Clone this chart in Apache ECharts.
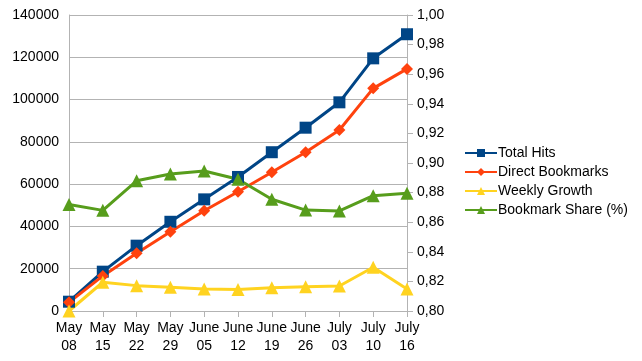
<!DOCTYPE html>
<html>
<head>
<meta charset="utf-8">
<script src="https://cdn.jsdelivr.net/npm/echarts@6/dist/echarts.min.js"></script>
<style>
  html, body { margin: 0; padding: 0; background: #fff; }
  #chart { width: 642px; height: 361px; }
</style>
</head>
<body>
<div id="chart"></div>
<script>
var weeks = ['May\n08', 'May\n15', 'May\n22', 'May\n29', 'June\n05', 'June\n12',
  'June\n19', 'June\n26', 'July\n03', 'July\n10', 'July\n16'];
var totalHits = [4400, 18600, 30900, 42200, 52800, 63400, 75100, 86700, 98700, 119500, 130900];
var directBookmarks = [4100, 16600, 27300, 37500, 47400, 56400, 65600, 75100, 85600, 105300, 114500];
var weeklyGrowth = [0, 13600, 12000, 11200, 10400, 10200, 11000, 11500, 11800, 20700, 10400];
var bookmarkShare = [0.872, 0.868, 0.888, 0.8926, 0.8946, 0.889, 0.8755, 0.8682, 0.8676, 0.8779, 0.8795];

var font = 'Liberation Sans';
var gray = '#b3b3b3';

var chart = echarts.init(document.getElementById('chart'));

function line(name, data, color, symbol, size, yIndex) {
  return {
    name: name,
    type: 'line',
    data: data,
    yAxisIndex: yIndex,
    symbol: symbol,
    symbolSize: size,
    showSymbol: true,
    lineStyle: { width: 3, color: color },
    itemStyle: { color: color },
    animation: false
  };
}

var option = {
  textStyle: { fontFamily: font },
  grid: { left: 69, right: 235, top: 15, bottom: 50 },
  legend: {
    orient: 'vertical',
    left: 459,
    top: 141,
    itemWidth: 32,
    itemHeight: 10,
    itemGap: 5,
    textStyle: { fontFamily: font, fontSize: 14, color: '#000', padding: [0, 0, 0, -4] },
    data: ['Total Hits', 'Direct Bookmarks', 'Weekly Growth', 'Bookmark Share (%)']
  },
  xAxis: {
    type: 'category',
    boundaryGap: false,
    data: weeks,
    axisLine: { lineStyle: { color: gray } },
    axisTick: { show: true, length: 6, lineStyle: { color: gray } },
    axisLabel: { color: '#000', fontSize: 14, lineHeight: 18, margin: 8, fontFamily: font, interval: 0 }
  },
  yAxis: [
    {
      type: 'value',
      min: 0,
      max: 140000,
      interval: 20000,
      axisLine: { show: true, lineStyle: { color: gray } },
      axisTick: { show: false },
      splitLine: { lineStyle: { color: gray } },
      axisLabel: {
        color: '#000', fontSize: 14, margin: 10, fontFamily: font,
        formatter: function (v) { return String(v); }
      }
    },
    {
      type: 'value',
      min: 0.8,
      max: 1.0,
      interval: 0.02,
      position: 'right',
      axisLine: { show: true, lineStyle: { color: gray } },
      axisTick: { show: true, length: 6, lineStyle: { color: gray } },
      splitLine: { show: false },
      axisLabel: {
        color: '#000', fontSize: 14, margin: 10, fontFamily: font,
        formatter: function (v) { return v.toFixed(2).replace('.', ','); }
      }
    }
  ],
  series: [
    line('Total Hits', totalHits, '#004586', 'rect', 12, 0),
    line('Direct Bookmarks', directBookmarks, '#ff420e', 'diamond', 12, 0),
    line('Weekly Growth', weeklyGrowth, '#ffd320', 'triangle', 13, 0),
    line('Bookmark Share (%)', bookmarkShare, '#579d1c', 'triangle', 13, 1)
  ]
};

chart.setOption(option);
</script>
</body>
</html>
